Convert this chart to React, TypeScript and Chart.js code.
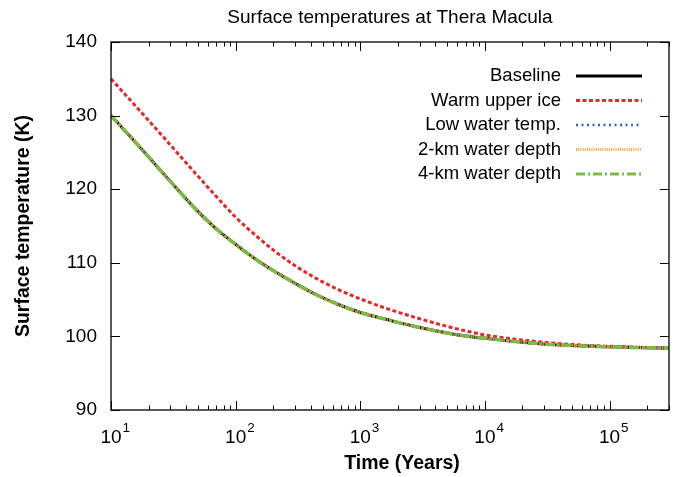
import React, { useEffect, useRef } from 'react';
import { Chart, registerables } from 'chart.js';

Chart.register(...registerables);

// ---- Data ----
const years = [10, 15, 20, 30, 40, 50, 70, 100, 150, 200, 300, 400, 500, 700, 1000, 1500, 2000, 3000, 5000, 7000, 10000, 20000, 30000, 50000, 100000, 200000, 300000];
const baseline = [130.0, 126.75, 124.4, 121.05, 118.7, 116.95, 114.6, 112.5, 110.3, 108.95, 107.2, 106.05, 105.25, 104.2, 103.25, 102.45, 101.9, 101.2, 100.45, 100.05, 99.75, 99.2, 98.95, 98.75, 98.58, 98.45, 98.4];
const warmUpperIce = [135.0, 131.7, 129.35, 126.0, 123.6, 121.75, 119.0, 116.2, 113.5, 111.75, 109.6, 108.3, 107.4, 106.2, 105.1, 104.0, 103.3, 102.4, 101.35, 100.75, 100.2, 99.5, 99.2, 98.9, 98.65, 98.5, 98.45];
const lowWaterTemp = [130.0, 126.75, 124.4, 121.05, 118.7, 116.95, 114.6, 112.5, 110.3, 108.95, 107.2, 106.05, 105.25, 104.2, 103.25, 102.45, 101.9, 101.2, 100.45, 100.05, 99.75, 99.2, 98.95, 98.75, 98.58, 98.45, 98.4];
const waterDepth2km = [130.0, 126.75, 124.4, 121.05, 118.7, 116.95, 114.6, 112.5, 110.3, 108.95, 107.2, 106.05, 105.25, 104.2, 103.25, 102.45, 101.9, 101.2, 100.45, 100.05, 99.75, 99.2, 98.95, 98.75, 98.58, 98.45, 98.4];
const waterDepth4km = [130.0, 126.75, 124.4, 121.05, 118.7, 116.95, 114.6, 112.5, 110.3, 108.95, 107.2, 106.05, 105.25, 104.2, 103.25, 102.45, 101.9, 101.2, 100.45, 100.05, 99.75, 99.2, 98.95, 98.75, 98.58, 98.45, 98.4];

const seriesLabels = ['Baseline', 'Warm upper ice', 'Low water temp.', '2-km water depth', '4-km water depth'];
const yTickValues = [90, 100, 110, 120, 130, 140];
const xTickValues = [10, 100, 1000, 10000, 100000];
const xTickExponents = ['1', '2', '3', '4', '5'];
const xMinorMultipliers = [2, 3, 4, 5, 6, 7, 8, 9];

const titleText = 'Surface temperatures at Thera Macula';
const xTitle = 'Time (Years)';
const yTitle = 'Surface temperature (K)';

const FONT = '"Liberation Sans", Arial, Helvetica, sans-serif';

const toPoints = (vals: number[]) => years.map((x, i) => ({ x, y: vals[i] }));

const framePlugin = {
  id: 'gnuFrame',
  afterDatasetsDraw(chart: any) {
    const { ctx, chartArea: a, scales } = chart;
    const x = scales.x;
    const y = scales.y;
    ctx.save();
    ctx.strokeStyle = '#000';
    ctx.lineWidth = 1.3;
    ctx.strokeRect(a.left, a.top, a.right - a.left, a.bottom - a.top);
    ctx.lineWidth = 1;
    ctx.beginPath();
    for (const v of yTickValues) {
      const py = Math.round(y.getPixelForValue(v)) + 0.5;
      ctx.moveTo(a.left, py);
      ctx.lineTo(a.left + 9, py);
      ctx.moveTo(a.right, py);
      ctx.lineTo(a.right - 9, py);
    }
    for (const v of xTickValues) {
      const px = Math.round(x.getPixelForValue(v)) + 0.5;
      ctx.moveTo(px, a.bottom);
      ctx.lineTo(px, a.bottom - 9);
      ctx.moveTo(px, a.top);
      ctx.lineTo(px, a.top + 9);
      for (const m of xMinorMultipliers) {
        const val = v * m;
        if (val > x.max) continue;
        const mx = Math.round(x.getPixelForValue(val)) + 0.5;
        ctx.moveTo(mx, a.bottom);
        ctx.lineTo(mx, a.bottom - 4.5);
        ctx.moveTo(mx, a.top);
        ctx.lineTo(mx, a.top + 4.5);
      }
    }
    ctx.stroke();

    // x tick labels: 10 with superscript exponent
    ctx.fillStyle = '#000';
    ctx.textBaseline = 'alphabetic';
    xTickValues.forEach((v, i) => {
      const px = x.getPixelForValue(v);
      ctx.font = `19px ${FONT}`;
      const w = ctx.measureText('10').width;
      ctx.textAlign = 'center';
      ctx.fillText('10', px, a.bottom + 32.5);
      ctx.font = `13.5px ${FONT}`;
      ctx.textAlign = 'left';
      ctx.fillText(xTickExponents[i], px + w / 2 + 1, a.bottom + 21.5);
    });

    // axis titles
    ctx.font = `bold 19.5px ${FONT}`;
    ctx.textAlign = 'center';
    ctx.textBaseline = 'middle';
    ctx.fillText(xTitle, (a.left + a.right) / 2 + 12, a.bottom + 54);
    ctx.save();
    ctx.translate(24, (a.top + a.bottom) / 2);
    ctx.rotate(-Math.PI / 2);
    ctx.fillText(yTitle, 0, 0);
    ctx.restore();
    ctx.restore();
  },
  afterDraw(chart: any) {
    const { ctx, chartArea: a } = chart;
    ctx.save();
    ctx.font = `18.5px ${FONT}`;
    ctx.textAlign = 'right';
    ctx.textBaseline = 'middle';
    chart.data.datasets.forEach((ds: any, i: number) => {
      const ry = a.top + 34 + i * 24.5;
      ctx.fillStyle = '#000';
      ctx.fillText(ds.label, a.right - 108, ry);
      ctx.beginPath();
      ctx.strokeStyle = ds.borderColor;
      ctx.lineWidth = ds.legendWidth;
      ctx.setLineDash(ds.borderDash || []);
      ctx.moveTo(a.right - 93, ry);
      ctx.lineTo(a.right - 27, ry);
      ctx.stroke();
    });
    ctx.restore();
  },
};

export default function App() {
  const canvasRef = useRef<HTMLCanvasElement | null>(null);

  useEffect(() => {
    document.body.style.margin = '0';
    const canvas = canvasRef.current;
    if (!canvas) return;
    const common = {
      pointRadius: 0,
      fill: false,
      cubicInterpolationMode: 'monotone' as const,
    };
    const chart = new Chart(canvas, {
      type: 'line',
      data: {
        datasets: [
          { ...common, label: seriesLabels[0], data: toPoints(baseline), borderColor: '#000000', borderWidth: 3, legendWidth: 3, borderDash: [], order: 4 } as any,
          { ...common, label: seriesLabels[1], data: toPoints(warmUpperIce), borderColor: '#dc2a2e', borderWidth: 3, legendWidth: 3, borderDash: [4, 2.5], order: 3 } as any,
          { ...common, label: seriesLabels[2], data: toPoints(lowWaterTemp), borderColor: '#3f5cb8', borderWidth: 2.5, legendWidth: 2.5, borderDash: [2, 3.5], order: 2 } as any,
          { ...common, label: seriesLabels[3], data: toPoints(waterDepth2km), borderColor: '#f0aa30', borderWidth: 3, legendWidth: 3, borderDash: [1, 1.2], order: 1 } as any,
          { ...common, label: seriesLabels[4], data: toPoints(waterDepth4km), borderColor: '#7cbc44', borderWidth: 3.5, legendWidth: 3, borderDash: [9, 3, 2, 3], order: 0 } as any,
        ],
      },
      options: {
        responsive: false,
        animation: false,
        layout: { padding: { left: 0, right: 10, top: 0, bottom: 0 } },
        plugins: {
          legend: { display: false },
          tooltip: { enabled: false },
          title: {
            display: true,
            text: titleText,
            fullSize: false,
            color: '#000',
            font: { family: FONT, size: 19, weight: 'normal' },
            padding: { top: 6, bottom: 13.2 },
          },
        },
        scales: {
          x: {
            type: 'logarithmic',
            min: 10,
            max: 300000,
            grid: { display: false, drawTicks: false },
            border: { display: false },
            ticks: { display: false },
            title: { display: false },
            afterFit: (s: any) => { s.height = 67; },
          },
          y: {
            min: 90,
            max: 140,
            grid: { display: false, drawTicks: false },
            border: { display: false },
            ticks: {
              stepSize: 10,
              padding: 14,
              color: '#000',
              font: { family: FONT, size: 19 },
            },
            title: { display: false },
            afterFit: (s: any) => { s.width = 111; },
          },
        },
      },
      plugins: [framePlugin],
    });
    return () => chart.destroy();
  }, []);

  return (
    <div style={{ width: 679, height: 477 }}>
      <canvas ref={canvasRef} width={679} height={477} style={{ display: 'block' }} />
    </div>
  );
}
